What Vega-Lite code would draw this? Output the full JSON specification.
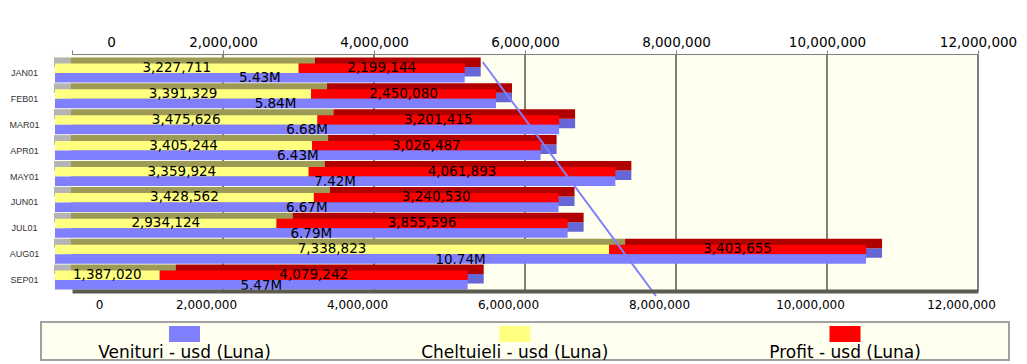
{
  "$schema": "https://vega.github.io/schema/vega-lite/v6.json",
  "autosize": {"type": "pad"},
  "padding": {"left": 8, "top": 35, "right": 5, "bottom": 0},
  "background": "white",
  "bounds": "flush",
  "spacing": 0,
  "config": {"view": {"stroke": null}, "axis": {"labelFlush": false}},
  "datasets": {
    "months": [
      {"month": "JAN01", "cheltuieli": 3227711, "profit": 2199144, "venituri": 5426855, "vlabel": "5.43M"},
      {"month": "FEB01", "cheltuieli": 3391329, "profit": 2450080, "venituri": 5841409, "vlabel": "5.84M"},
      {"month": "MAR01", "cheltuieli": 3475626, "profit": 3201415, "venituri": 6677041, "vlabel": "6.68M"},
      {"month": "APR01", "cheltuieli": 3405244, "profit": 3026487, "venituri": 6431731, "vlabel": "6.43M"},
      {"month": "MAY01", "cheltuieli": 3359924, "profit": 4061893, "venituri": 7421817, "vlabel": "7.42M"},
      {"month": "JUN01", "cheltuieli": 3428562, "profit": 3240530, "venituri": 6669092, "vlabel": "6.67M"},
      {"month": "JUL01", "cheltuieli": 2934124, "profit": 3855596, "venituri": 6789720, "vlabel": "6.79M"},
      {"month": "AUG01", "cheltuieli": 7338823, "profit": 3403655, "venituri": 10742478, "vlabel": "10.74M"},
      {"month": "SEP01", "cheltuieli": 1387020, "profit": 4079242, "venituri": 5466262, "vlabel": "5.47M"}
    ],
    "grid": [{"v": 2000000}, {"v": 4000000}, {"v": 6000000}, {"v": 8000000}, {"v": 10000000}, {"v": 12000000}],
    "wall": [{"part": "back wall"}],
    "diag": [{"x": 5440000, "t": 1}, {"x": 7735000, "t": 0}],
    "legend": [
      {"key": "Venituri", "label": "Venituri - usd (Luna)"},
      {"key": "Cheltuieli", "label": "Cheltuieli - usd (Luna)"},
      {"key": "Profit", "label": "Profit - usd (Luna)"}
    ]
  },
  "vconcat": [
    {
      "width": 968,
      "height": 1,
      "data": {"name": "wall"},
      "mark": {"type": "rule", "opacity": 0},
      "encoding": {
        "x": {
          "datum": 0, "type": "quantitative",
          "scale": {"domain": [0, 12000000], "range": [31, 937], "nice": false, "zero": true},
          "axis": {
            "orient": "top", "values": [0, 2000000, 4000000, 6000000, 8000000, 10000000, 12000000],
            "format": ",d", "title": null, "grid": false,
            "domainColor": "#808080", "tickColor": "#808080", "tickSize": 4,
            "labelPadding": 1, "labelFont": "DejaVu Sans", "labelFontSize": 13.5, "labelColor": "#000000",
            "labelFlush": false, "labelOverlap": false,
            "labelOffset": {"condition": {"test": "datum.value === 0", "value": 39}, "value": 0}
          }
        }
      }
    },
    {
      "width": 968,
      "height": 236,
      "resolve": {"scale": {"y": "independent"}, "axis": {"y": "independent"}},
      "layer": [
        {
          "data": {"name": "wall"},
          "mark": {"type": "rect", "color": "#FFFFF0", "xOffset": -18},
          "encoding": {
            "x": {"datum": 0, "type": "quantitative", "scale": {"domain": [0, 12000000], "range": [31, 937], "nice": false, "zero": true}, "axis": null},
            "x2": {"datum": 12000000}
          }
        },
        {
          "data": {"name": "grid"},
          "mark": {"type": "rule", "color": "#000000", "strokeWidth": 1},
          "encoding": {
            "x": {"field": "v", "type": "quantitative", "scale": {"domain": [0, 12000000], "range": [31, 937], "nice": false}, "axis": null}
          }
        },
        {
          "data": {"name": "months"},
          "encoding": {
            "y": {
              "field": "month", "type": "nominal", "sort": null,
              "scale": {"range": [5, 238], "paddingInner": 0, "paddingOuter": 0},
              "axis": {"title": null, "domain": false, "ticks": false, "tickSize": 0, "labelPadding": 17,
                       "labelAlign": "center", "labelFont": "Liberation Sans", "labelFontSize": 9, "labelColor": "#333333"}
            }
          },
          "layer": [
            {
              "mark": {"type": "bar", "color": "#B4B4B4", "height": 9.5, "yOffset": -10.75, "xOffset": -18, "x2Offset": -1},
              "encoding": {
                "x": {"datum": 0, "type": "quantitative", "scale": {"domain": [0, 12000000], "range": [31, 937], "nice": false}, "axis": null},
                "x2": {"datum": 0}
              }
            },
            {
              "mark": {"type": "bar", "color": "#6666D6", "height": 9.5, "yOffset": -1.25, "xOffset": -1, "x2Offset": -1},
              "encoding": {
                "x": {"field": "venituri", "type": "quantitative", "axis": null},
                "x2": {"datum": 0}
              }
            },
            {
              "mark": {"type": "bar", "color": "#9C9A55", "height": 9.5, "yOffset": -10.75, "xOffset": -1, "x2Offset": -1},
              "encoding": {
                "x": {"field": "cheltuieli", "type": "quantitative", "axis": null},
                "x2": {"datum": 0}
              }
            },
            {
              "mark": {"type": "bar", "color": "#B00000", "height": 9.5, "yOffset": -10.75, "xOffset": -1, "x2Offset": -1},
              "encoding": {
                "x": {"field": "cheltuieli", "type": "quantitative", "axis": null},
                "x2": {"field": "venituri"}
              }
            },
            {
              "mark": {"type": "bar", "color": "#FFFF80", "height": 9.5, "yOffset": -4.75, "xOffset": -17, "x2Offset": -17},
              "encoding": {
                "x": {"field": "cheltuieli", "type": "quantitative", "axis": null},
                "x2": {"datum": 0}
              }
            },
            {
              "mark": {"type": "bar", "color": "#FF0000", "height": 9.5, "yOffset": -4.75, "xOffset": -17, "x2Offset": -17},
              "encoding": {
                "x": {"field": "cheltuieli", "type": "quantitative", "axis": null},
                "x2": {"field": "venituri"}
              }
            },
            {
              "mark": {"type": "bar", "color": "#8080FF", "height": 9.5, "yOffset": 4.75, "xOffset": -17, "x2Offset": -17},
              "encoding": {
                "x": {"field": "venituri", "type": "quantitative", "axis": null},
                "x2": {"datum": 0}
              }
            },
            {
              "mark": {"type": "text", "font": "DejaVu Sans", "fontSize": 13.5, "color": "#000000", "baseline": "middle", "dx": -17, "yOffset": -5},
              "encoding": {
                "x": {"datum": 0, "type": "quantitative", "axis": null},
                "xOffset": {"field": "cheltuieli", "type": "quantitative", "scale": {"domain": [0, 24000000], "range": [0, 906], "nice": false, "zero": true}},
                "text": {"field": "cheltuieli", "type": "quantitative", "format": ",d"}
              }
            },
            {
              "transform": [
                {"fold": ["cheltuieli", "venituri"], "as": ["key", "value"]},
                {"stack": "value", "groupby": ["month"], "sort": [{"field": "key", "order": "ascending"}], "as": ["s0", "s1"]},
                {"filter": "datum.key === 'venituri'"}
              ],
              "mark": {"type": "text", "font": "DejaVu Sans", "fontSize": 13.5, "color": "#000000", "baseline": "middle", "dx": -17, "yOffset": -5},
              "encoding": {
                "x": {"datum": 0, "type": "quantitative", "axis": null},
                "xOffset": {"field": "s1", "type": "quantitative", "scale": {"domain": [0, 24000000], "range": [0, 906], "nice": false, "zero": true}},
                "text": {"field": "profit", "type": "quantitative", "format": ",d"}
              }
            },
            {
              "mark": {"type": "text", "font": "DejaVu Sans", "fontSize": 13.5, "color": "#000000", "baseline": "middle", "dx": -17, "yOffset": 5.5},
              "encoding": {
                "x": {"datum": 0, "type": "quantitative", "axis": null},
                "xOffset": {"field": "venituri", "type": "quantitative", "scale": {"domain": [0, 24000000], "range": [0, 906], "nice": false, "zero": true}},
                "text": {"field": "vlabel", "type": "nominal"}
              }
            }
          ]
        },
        {
          "data": {"name": "diag"},
          "mark": {"type": "line", "color": "#8080FF", "strokeWidth": 2},
          "encoding": {
            "x": {"field": "x", "type": "quantitative", "axis": null},
            "y": {"field": "t", "type": "quantitative", "scale": {"domain": [0.0214, 1.03], "zero": false, "nice": false}, "axis": null}
          }
        }
      ]
    },
    {
      "width": 968,
      "height": 31,
      "data": {"name": "wall"},
      "mark": {"type": "rule", "opacity": 0},
      "encoding": {
        "x": {
          "datum": 0, "type": "quantitative",
          "scale": {"domain": [0, 12000000], "range": [31, 937], "nice": false, "zero": true},
          "axis": {
            "orient": "bottom", "offset": -31, "values": [0, 2000000, 4000000, 6000000, 8000000, 10000000, 12000000],
            "format": ",d", "title": null, "grid": false, "ticks": false, "tickSize": 0,
            "domainColor": "#5B5B52", "domainWidth": 4,
            "labelPadding": 8, "labelFont": "DejaVu Sans", "labelFontSize": 12, "labelColor": "#000000",
            "labelFlush": false, "labelOverlap": false,
            "labelOffset": {"condition": {"test": "datum.value === 0", "value": 27}, "value": -17}
          }
        }
      }
    },
    {
      "width": 968,
      "height": 38,
      "view": {"fill": "#FFFFF0", "stroke": "#A0A0A0", "strokeWidth": 2},
      "data": {"name": "legend"},
      "encoding": {
        "x": {"field": "label", "type": "nominal", "sort": null, "scale": {"type": "point", "range": [143.5, 804], "padding": 0}, "axis": null}
      },
      "layer": [
        {
          "mark": {"type": "point", "shape": "M-1,-0.516H1V0.516H-1Z", "size": 961, "filled": true, "opacity": 1, "strokeWidth": 0, "yOffset": -7},
          "encoding": {
            "color": {"field": "key", "type": "nominal", "sort": null,
                      "scale": {"domain": ["Venituri", "Cheltuieli", "Profit"], "range": ["#8080FF", "#FFFF80", "#FF0000"]},
                      "legend": null}
          }
        },
        {
          "mark": {"type": "text", "font": "DejaVu Sans", "fontSize": 17, "color": "#000000", "baseline": "middle", "yOffset": 11.5},
          "encoding": {"text": {"field": "label", "type": "nominal"}}
        }
      ]
    }
  ]
}
